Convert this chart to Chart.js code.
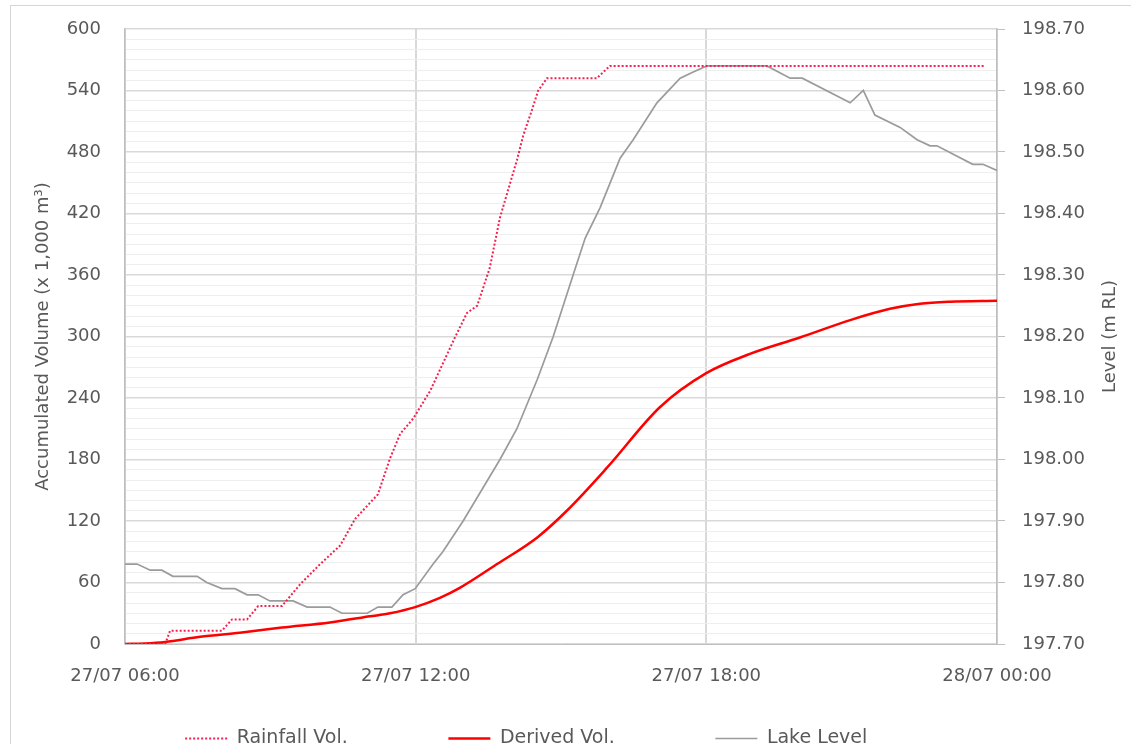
<!DOCTYPE html>
<html>
<head>
<meta charset="utf-8">
<title>Accumulated volume and lake level</title>
<script src="https://cdn.jsdelivr.net/npm/chart.js@4.4.1/dist/chart.umd.min.js"></script>
<style>
  html, body { margin: 0; padding: 0; background: #fff; overflow: hidden; }
  #wrap { position: relative; width: 1131px; height: 763px; }
  #frame { position: absolute; left: 10px; top: 5px; right: -5px; bottom: -50px;
           border-left: 1px solid #d6d6d6; border-top: 1px solid #d6d6d6; pointer-events: none; }
</style>
</head>
<body>
<div id="wrap">
  <canvas id="myChart" width="1131" height="763"></canvas>
  <div id="frame"></div>
</div>
<script>
const FONT = "'DejaVu Sans', sans-serif";
const TEXT = "#595959";

// x values are hours since 27/07 00:00
const xTickLabels = { 6: "27/07 06:00", 12: "27/07 12:00", 18: "27/07 18:00", 24: "28/07 00:00" };

// Rainfall Vol. (x 1,000 m3)
const rainHours = [6.00, 6.83, 6.93, 8.00, 8.21, 8.52, 8.75, 9.24, 9.61, 10.03, 10.44, 10.75, 11.22, 11.47,
  11.68, 11.95, 12.30, 12.81, 13.06, 13.27, 13.53, 13.74, 13.89, 14.09, 14.22, 14.40, 14.53, 14.71,
  15.74, 16.01, 23.75];
const rainVol = [0, 0, 13, 13, 24, 24, 37, 37, 58, 78, 96, 122, 146, 181,
  205, 220, 247, 299, 323, 330, 367, 416, 440, 472, 496, 521, 540, 552,
  552, 564, 564];

// Derived Vol. (x 1,000 m3)
const derivedHours = [6.00, 6.41, 6.83, 7.55, 8.37, 9.24, 10.23, 11.06, 11.47, 11.99, 12.50, 12.92, 13.68,
  14.51, 15.12, 15.95, 17.04, 17.99, 18.90, 19.93, 20.97, 21.79, 22.41, 23.03, 24.00];
const derivedVol = [0, 0.5, 2, 7, 11, 16, 21, 27, 30, 36, 45, 55, 78,
  104, 130, 172, 231, 264, 283, 299, 316, 327, 332, 334, 335];

// Lake Level (m RL)
const lakeHours = [6.00, 6.25, 6.52, 6.76, 6.99, 7.49, 7.69, 8.00, 8.27, 8.52, 8.75, 8.99, 9.47, 9.76,
  10.23, 10.48, 11.00, 11.22, 11.51, 11.74, 11.99, 12.36, 12.56, 12.98, 13.74, 14.09, 14.51, 14.84,
  15.25, 15.50, 15.81, 16.22, 16.49, 16.98, 17.46, 17.73, 18.01, 19.25, 19.73, 19.98, 20.97, 21.24,
  21.48, 22.00, 22.35, 22.62, 22.76, 23.50, 23.71, 24.00];
const lakeLevel = [197.83, 197.83, 197.82, 197.82, 197.81, 197.81, 197.80, 197.79, 197.79, 197.78, 197.78,
  197.77, 197.77, 197.76, 197.76, 197.75, 197.75, 197.76, 197.76, 197.78, 197.79, 197.83, 197.85, 197.90,
  198.00, 198.05, 198.13, 198.20, 198.30, 198.36, 198.41, 198.49, 198.52, 198.58, 198.62, 198.63, 198.64,
  198.64, 198.62, 198.62, 198.58, 198.60, 198.56, 198.54, 198.52, 198.51, 198.51, 198.48, 198.48, 198.47];

const pairs = (xs, ys) => xs.map((x, i) => ({ x: x, y: ys[i] }));

// Excel-style title on the right axis, reading bottom to top
const rightTitle = {
  id: "rightTitle",
  afterDraw(chart) {
    const s = chart.scales.y1;
    const ctx = chart.ctx;
    ctx.save();
    ctx.translate(s.right - 21, (s.top + s.bottom) / 2);
    ctx.rotate(-Math.PI / 2);
    ctx.font = "18px " + FONT;
    ctx.fillStyle = TEXT;
    ctx.textAlign = "center";
    ctx.textBaseline = "middle";
    ctx.fillText("Level (m RL)", 0, 0);
    ctx.restore();
  }
};

// fixed axis widths; tick padding should not push the plot area down
const fixWidth = w => s => {
  s.width = w;
  s.paddingTop = 0;
  s.paddingBottom = 0;
};

// pad legend texts so the items sit as far apart as in the original
const legendGap = [15, 15, 13];

const ctx = document.getElementById("myChart");

new Chart(ctx, {
  type: "line",
  data: {
    datasets: [
      {
        label: "Rainfall Vol.",
        data: pairs(rainHours, rainVol),
        yAxisID: "y",
        borderColor: "#f4204f",
        borderWidth: 2,
        borderDash: [2, 2],
        pointRadius: 0,
        tension: 0
      },
      {
        label: "Derived Vol.",
        data: pairs(derivedHours, derivedVol),
        yAxisID: "y",
        borderColor: "#ff0000",
        borderWidth: 2.5,
        pointRadius: 0,
        cubicInterpolationMode: "monotone"
      },
      {
        label: "Lake Level",
        data: pairs(lakeHours, lakeLevel),
        yAxisID: "y1",
        borderColor: "#9b9b9b",
        borderWidth: 1.7,
        pointRadius: 0,
        tension: 0
      }
    ]
  },
  options: {
    responsive: false,
    animation: false,
    layout: { padding: { top: 29, bottom: 5, left: 0, right: 0 } },
    plugins: {
      tooltip: { enabled: false },
      legend: {
        position: "bottom",
        labels: {
          usePointStyle: true,
          pointStyle: "line",
          pointStyleWidth: 42,
          color: TEXT,
          font: { family: FONT, size: 19 },
          padding: 10,
          generateLabels(chart) {
            const items = Chart.defaults.plugins.legend.labels.generateLabels(chart);
            items.forEach((it, i) => {
              const ds = chart.data.datasets[it.datasetIndex];
              it.text = it.text + "\u00a0".repeat(legendGap[i]);
              it.lineDash = ds.borderDash || [];
              it.lineWidth = ds.borderWidth;
              it.strokeStyle = ds.borderColor;
            });
            return items;
          }
        }
      }
    },
    scales: {
      x: {
        type: "linear",
        min: 6,
        max: 24,
        ticks: {
          stepSize: 6,
          autoSkip: false,
          maxRotation: 0,
          padding: 22,
          color: TEXT,
          font: { family: FONT, size: 18 },
          callback: v => xTickLabels[v] || ""
        },
        grid: { color: "#d9d9d9", lineWidth: 2, drawTicks: false },
        border: { color: "#bfbfbf", width: 1 },
        afterFit: s => { s.height = 75; }
      },
      y: {
        position: "left",
        min: 0,
        max: 600,
        ticks: {
          stepSize: 10,
          autoSkip: false,
          padding: 24,
          color: TEXT,
          font: { family: FONT, size: 18 },
          callback: v => (v % 60 === 0 ? v : "")
        },
        grid: {
          drawTicks: false,
          color: c => (c.tick && c.tick.value % 60 === 0 ? "#d9d9d9" : "#eeeeee"),
          lineWidth: c => (c.tick && c.tick.value % 60 === 0 ? 1.5 : 1)
        },
        border: { color: "#bfbfbf", width: 1.5 },
        title: {
          display: true,
          text: "Accumulated Volume (x 1,000 m\u00b3)",
          color: TEXT,
          font: { family: FONT, size: 18 },
          padding: { top: 33, bottom: 0 }
        },
        afterFit: fixWidth(125)
      },
      y1: {
        position: "right",
        min: 197.7,
        max: 198.7,
        ticks: {
          stepSize: 0.1,
          autoSkip: false,
          padding: 17,
          color: TEXT,
          font: { family: FONT, size: 18 },
          callback: v => Number(v).toFixed(2)
        },
        grid: { drawOnChartArea: false, drawTicks: true, tickLength: 8, color: "#bfbfbf" },
        border: { color: "#bfbfbf", width: 1.5 },
        afterFit: fixWidth(134)
      }
    }
  },
  plugins: [rightTitle]
});
</script>
</body>
</html>
